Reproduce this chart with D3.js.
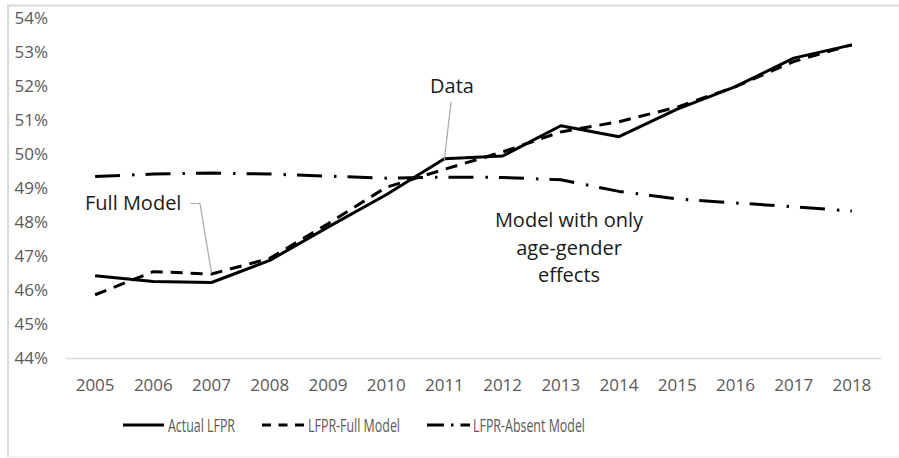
<!DOCTYPE html>
<html>
<head>
<meta charset="utf-8">
<script src="https://cdn.jsdelivr.net/npm/d3@7"></script>
<style>
  html, body { margin: 0; padding: 0; background: #fff; }
  svg { display: block; font-family: "Open Sans", sans-serif; }
</style>
</head>
<body>
<svg id="chart" width="899" height="458"></svg>
<script>
// Labour force participation rate, 2005-2018 (percent)
const years = ["2005","2006","2007","2008","2009","2010","2011","2012","2013","2014","2015","2016","2017","2018"];
const actualLFPR = [46.42, 46.25, 46.22, 46.87, 47.85, 48.80, 49.86, 49.94, 50.83, 50.51, 51.32, 51.98, 52.82, 53.21];
const fullModel  = [45.86, 46.54, 46.47, 46.93, 47.95, 49.02, 49.55, 50.06, 50.65, 50.95, 51.38, 51.98, 52.72, 53.21];
const absentModel = [49.34, 49.41, 49.44, 49.41, 49.35, 49.29, 49.32, 49.31, 49.24, 48.90, 48.68, 48.56, 48.45, 48.32];
const yTicks = [44, 45, 46, 47, 48, 49, 50, 51, 52, 53, 54];
const seriesNames = ["Actual LFPR", "LFPR-Full Model", "LFPR-Absent Model"];

const svg = d3.select("#chart");
const textGrey = "#595959";
const axisGrey = "#d9d9d9";

// outer chart frame
svg.append("path")
  .attr("d", "M8,457 V5.5 H899")
  .attr("fill", "none")
  .attr("stroke", axisGrey)
  .attr("stroke-width", 2);
svg.append("line")
  .attr("x1", 8).attr("x2", 899).attr("y1", 457).attr("y2", 457)
  .attr("stroke", "#efefef").attr("stroke-width", 1.5);

const plot = { left: 66, right: 881, top: 18, bottom: 358 };

const x = d3.scaleBand().domain(years).range([plot.left, plot.right]);
const xc = d => x(d) + x.bandwidth() / 2;
const y = d3.scaleLinear().domain([44, 54]).range([plot.bottom, plot.top]);

// y axis labels (no line, no ticks)
const yAxis = d3.axisLeft(y).tickValues(yTicks).tickFormat(d => d + "%").tickSize(0).tickPadding(0);
const gy = svg.append("g").attr("transform", "translate(48,0)").call(yAxis);
gy.select(".domain").remove();
gy.selectAll("text")
  .attr("fill", textGrey)
  .style("font-size", "17px")
  .style("font-family", "'Open Sans', sans-serif");

// x axis baseline and year labels
const xAxis = d3.axisBottom(x).tickSize(0).tickPadding(0);
const gx = svg.append("g").attr("transform", `translate(0,${plot.bottom})`).call(xAxis);
gx.select(".domain")
  .attr("stroke", axisGrey)
  .attr("stroke-width", 1.6)
  .attr("d", `M${plot.left},0.5H${plot.right}`);
gx.selectAll("text")
  .attr("fill", textGrey)
  .attr("dy", null)
  .attr("y", 32.5)
  .style("font-size", "17px")
  .style("font-family", "'Open Sans', sans-serif");

// series lines
const line = d3.line().x((d, i) => xc(years[i])).y(d => y(d));
const styles = [
  { data: actualLFPR, dash: null },
  { data: fullModel, dash: "12,8" },
  { data: absentModel, dash: "25,12,2.5,11" }
];
styles.forEach(s => {
  svg.append("path")
    .datum(s.data)
    .attr("d", line)
    .attr("fill", "none")
    .attr("stroke", "#000")
    .attr("stroke-width", 3)
    .attr("stroke-linejoin", "round")
    .attr("stroke-dasharray", s.dash);
});

// annotations with leader lines
const noteColor = "#1a1a1a";
const leaderColor = "#a6a6a6";
const dataPt = [xc("2011"), y(actualLFPR[6])];
svg.append("line")
  .attr("x1", 451).attr("y1", 102)
  .attr("x2", dataPt[0]).attr("y2", dataPt[1] + 1)
  .attr("stroke", leaderColor).attr("stroke-width", 1.2);
svg.append("text")
  .attr("x", 452).attr("y", 92.5)
  .attr("text-anchor", "middle")
  .attr("fill", noteColor)
  .style("font-size", "20px")
  .text("Data");

const fullPt = [xc("2007"), y(fullModel[2])];
svg.append("path")
  .attr("d", `M190.5,203.5H200L${fullPt[0]},${fullPt[1] - 1}`)
  .attr("fill", "none")
  .attr("stroke", leaderColor).attr("stroke-width", 1.2);
svg.append("text")
  .attr("x", 85).attr("y", 210)
  .attr("fill", noteColor)
  .style("font-size", "20px")
  .text("Full Model");

const ageText = svg.append("text")
  .attr("text-anchor", "middle")
  .attr("fill", noteColor)
  .style("font-size", "20px");
[["Model with only", 226.7], ["age-gender", 255], ["effects", 282.3]].forEach(([t, yy]) => {
  ageText.append("tspan").attr("x", 569).attr("y", yy).text(t);
});

// legend
const legendY = 425;
const legendItems = [
  { name: seriesNames[0], dash: null, x0: 123, x1: 164, tx: 168, tw: 67 },
  { name: seriesNames[1], dash: "9,7.5", x0: 262, x1: 304, tx: 308, tw: 92 },
  { name: seriesNames[2], dash: "17,7,2.5,7", x0: 427, x1: 470, tx: 473, tw: 112 }
];
legendItems.forEach(it => {
  svg.append("line")
    .attr("x1", it.x0).attr("x2", it.x1)
    .attr("y1", legendY).attr("y2", legendY)
    .attr("stroke", "#000").attr("stroke-width", 3)
    .attr("stroke-dasharray", it.dash);
  svg.append("text")
    .attr("x", it.tx).attr("y", legendY + 7)
    .attr("fill", textGrey)
    .attr("textLength", it.tw)
    .attr("lengthAdjust", "spacingAndGlyphs")
    .style("font-size", "19px")
    .text(it.name);
});
</script>
</body>
</html>
